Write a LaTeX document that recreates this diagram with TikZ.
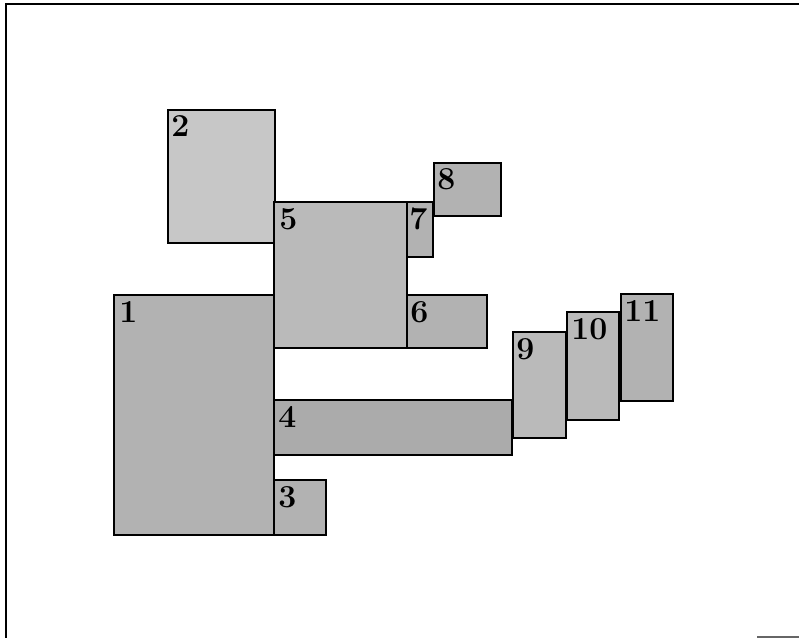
\documentclass[tikz,border=0pt]{standalone}
\begin{document}
\begin{tikzpicture}[x=0.75pt,y=-0.75pt,
  blk/.style={draw=black, line width=1.1pt, fill=black!30},
  lbl/.style={anchor=base west, inner sep=0pt, font=\fontsize{24}{26}\selectfont\bfseries}]
\useasboundingbox (0,0) rectangle (799,638);
% frame
\draw[line width=1.2pt] (6,638) -- (6,4) -- (799,4);
\draw[line width=1pt, black!60] (757,637) -- (799,637);
% blocks
\draw[blk, fill=black!22] (168,110) rectangle (275,243);
\draw[blk] (114,295) rectangle (274,535);
\draw[blk, fill=black!27] (274,202) rectangle (407,348);
\draw[blk] (407,202) rectangle (433,257);
\draw[blk] (434,163) rectangle (501,216);
\draw[blk] (407,295) rectangle (487,348);
\draw[blk, fill=black!33] (274,400) rectangle (512,455);
\draw[blk] (274,480) rectangle (326,535);
\draw[blk, fill=black!27] (513,332) rectangle (566,438);
\draw[blk, fill=black!27] (567,312) rectangle (619,420);
\draw[blk] (621,294) rectangle (673,401);
% labels
\node[lbl] (l2) at (171,137) {2};
\node[lbl] (l1) at (119,322) {1};
\node[lbl] (l5) at (279,229) {5};
\node[lbl] (l7) at (409,229) {7};
\node[lbl] (l8) at (437,190) {8};
\node[lbl] (l6) at (410,322) {6};
\node[lbl] (l4) at (278,427) {4};
\node[lbl] (l3) at (278,507) {3};
\node[lbl] (l9) at (516,359) {9};
\node[lbl] (l10) at (571,339) {10};
\node[lbl] (l11) at (624,321) {11};
\end{tikzpicture}
\end{document}
